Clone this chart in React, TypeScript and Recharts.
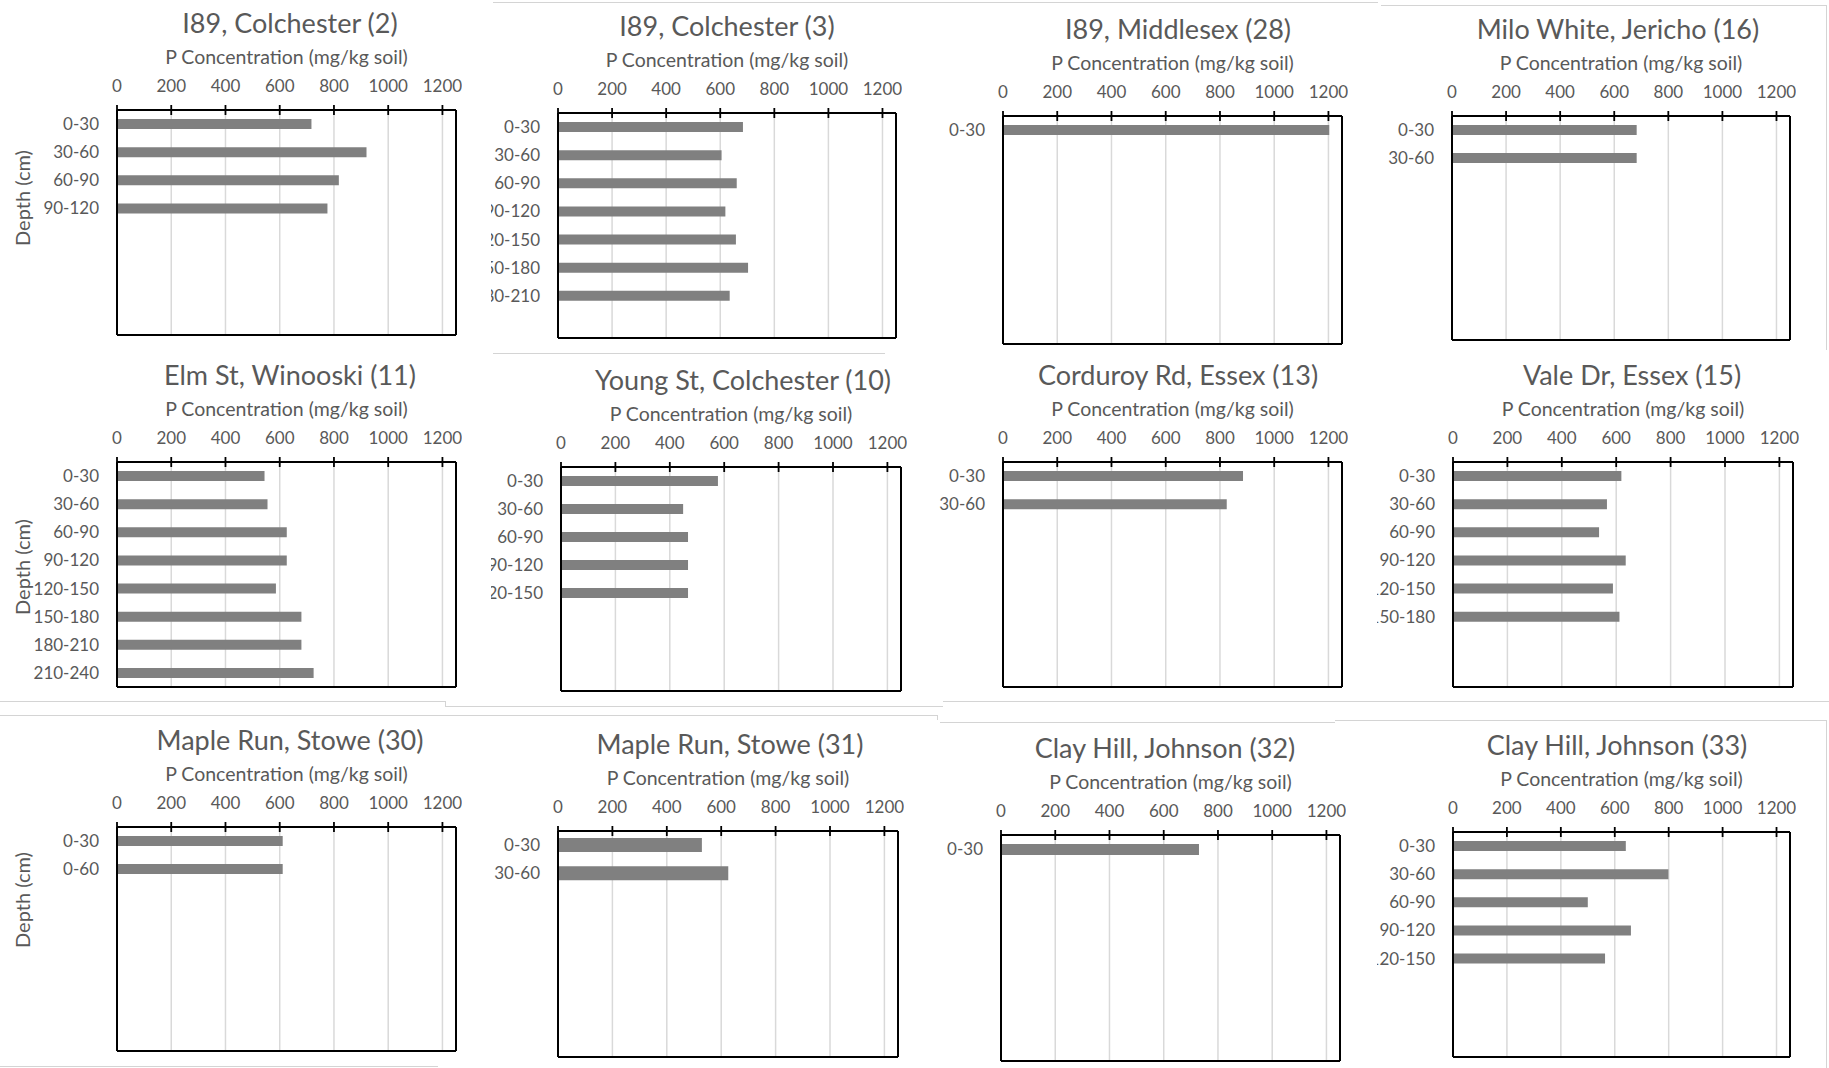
import React from "react";
import { BarChart, Bar, XAxis, YAxis, CartesianGrid } from "recharts";

// P concentration (mg/kg soil) by depth for each sampling site
const siteTitles = [
  "I89, Colchester (2)",
  "I89, Colchester (3)",
  "I89, Middlesex (28)",
  "Milo White, Jericho (16)",
  "Elm St, Winooski (11)",
  "Young St, Colchester (10)",
  "Corduroy Rd, Essex (13)",
  "Vale Dr, Essex (15)",
  "Maple Run, Stowe (30)",
  "Maple Run, Stowe (31)",
  "Clay Hill, Johnson (32)",
  "Clay Hill, Johnson (33)",
];

const colchester2Depths = ["0-30", "30-60", "60-90", "90-120"];
const colchester2Values = [717, 920, 818, 776];

const colchester3Depths = ["0-30", "30-60", "60-90", "90-120", "120-150", "150-180", "180-210"];
const colchester3Values = [684, 605, 661, 619, 658, 703, 635];

const middlesexDepths = ["0-30"];
const middlesexValues = [1203];

const jerichoDepths = ["0-30", "30-60"];
const jerichoValues = [683, 683];

const winooskiDepths = ["0-30", "30-60", "60-90", "90-120", "120-150", "150-180", "180-210", "210-240"];
const winooskiValues = [544, 555, 626, 626, 586, 680, 680, 725];

const youngStDepths = ["0-30", "30-60", "60-90", "90-120", "120-150"];
const youngStValues = [577, 449, 467, 467, 467];

const corduroyDepths = ["0-30", "30-60"];
const corduroyValues = [885, 825];

const valeDrDepths = ["0-30", "30-60", "60-90", "90-120", "120-150", "150-180"];
const valeDrValues = [619, 566, 537, 635, 588, 612];

const stowe30Depths = ["0-30", "0-60"];
const stowe30Values = [611, 611];

const stowe31Depths = ["0-30", "30-60"];
const stowe31Values = [529, 626];

const johnson32Depths = ["0-30"];
const johnson32Values = [730];

const johnson33Depths = ["0-30", "30-60", "60-90", "90-120", "120-150"];
const johnson33Values = [641, 799, 500, 660, 564];

const majorTicks = [0, 200, 400, 600, 800, 1000, 1200];
const minorTicks = [100, 300, 500, 700, 900, 1100];
const X_MAX = 1250;
const SLOTS = 8;

const FONT = "Lato, 'Open Sans', sans-serif";
const TEXT = "#595959";
const BAR = "#808080";
const GRID = "#d9d9d9";

// where each screenshot sits in the collage
const layout = [
  { left: 117, top: 110, right: 456, bottom: 335, titleX: 290, depthY: 198, barSize: 10 },
  { left: 558, top: 113, right: 896, bottom: 338, titleX: 727, clipX: 491, barSize: 10 },
  { left: 1003, top: 116, right: 1342, bottom: 344, titleX: 1178, barSize: 10 },
  { left: 1452, top: 116, right: 1790, bottom: 340, titleX: 1618, clipX: 1381, barSize: 10 },
  { left: 117, top: 462, right: 456, bottom: 687, titleX: 290, depthY: 567, barSize: 10 },
  { left: 561, top: 467, right: 901, bottom: 691, titleX: 743, clipX: 491, barSize: 10 },
  { left: 1003, top: 462, right: 1342, bottom: 687, titleX: 1178, barSize: 10 },
  { left: 1453, top: 462, right: 1793, bottom: 687, titleX: 1632, clipX: 1377, barSize: 10 },
  { left: 117, top: 827, right: 456, bottom: 1051, titleX: 290, depthY: 900, barSize: 10 },
  { left: 558, top: 831, right: 898, bottom: 1057, titleX: 730, clipX: 493, barSize: 14 },
  { left: 1001, top: 835, right: 1340, bottom: 1061, titleX: 1165, barSize: 11 },
  { left: 1453, top: 832, right: 1790, bottom: 1057, titleX: 1617, clipX: 1377, barSize: 10 },
];

const siteDepths = [
  colchester2Depths, colchester3Depths, middlesexDepths, jerichoDepths,
  winooskiDepths, youngStDepths, corduroyDepths, valeDrDepths,
  stowe30Depths, stowe31Depths, johnson32Depths, johnson33Depths,
];
const siteValues = [
  colchester2Values, colchester3Values, middlesexValues, jerichoValues,
  winooskiValues, youngStValues, corduroyValues, valeDrValues,
  stowe30Values, stowe31Values, johnson32Values, johnson33Values,
];

// faint frame edges left over from the pasted screenshots
const frameLines = [
  { x: 493, y: 2, w: 885, h: 1 },
  { x: 1381, y: 5, w: 446, h: 1 },
  { x: 1826, y: 5, w: 1, h: 345 },
  { x: 493, y: 353, w: 392, h: 1 },
  { x: 0, y: 701, w: 445, h: 1 },
  { x: 445, y: 701, w: 1, h: 5 },
  { x: 445, y: 706, w: 498, h: 1 },
  { x: 943, y: 701, w: 886, h: 1 },
  { x: 0, y: 715, w: 937, h: 1 },
  { x: 937, y: 715, w: 1, h: 5 },
  { x: 940, y: 722, w: 395, h: 1 },
  { x: 1335, y: 720, w: 492, h: 1 },
  { x: 1826, y: 720, w: 1, h: 348 },
  { x: 0, y: 1066, w: 438, h: 1 },
];

function MajorTick(props: any) {
  const { x, y, payload } = props;
  return (
    <g>
      <line x1={x} x2={x} y1={y - 5} y2={y + 5} stroke="#000" strokeWidth={1.8} />
      <text x={x} y={y - 25} textAnchor="middle" dominantBaseline="central" fill={TEXT} fontSize={17} fontFamily={FONT}>
        {payload.value}
      </text>
    </g>
  );
}

function MinorTick(props: any) {
  const { x, y } = props;
  // minor axis sits 1px above the main one
  return <line x1={x} x2={x} y1={y + 1} y2={y + 6} stroke="#000" strokeWidth={1.8} />;
}

function Panel({ idx }: { idx: number }) {
  const p = layout[idx];
  const depths = siteDepths[idx];
  const values = siteValues[idx];
  const L = 110;
  const MT = 40;
  const MR = 6;
  const MB = 6;
  const plotW = p.right - p.left;
  const plotH = p.bottom - p.top;
  const chartLeft = p.left - L;
  const chartTop = p.top - MT;
  const width = L + plotW + MR;
  const height = MT + plotH + MB;
  const clipX = p.clipX ?? chartLeft;

  const rows = Array.from({ length: SLOTS }, (_, i) => ({
    depth: depths[i] ?? "",
    p: values[i] ?? null,
  }));

  return (
    <>
      <div
        style={{
          position: "absolute",
          left: p.titleX,
          top: p.top - 88,
          transform: "translate(-50%, -50%)",
          whiteSpace: "nowrap",
          fontSize: 27,
          color: TEXT,
        }}
      >
        {siteTitles[idx]}
      </div>
      <div
        style={{
          position: "absolute",
          left: (p.left + p.right) / 2,
          top: p.top - 54,
          transform: "translate(-50%, -50%)",
          whiteSpace: "nowrap",
          fontSize: 19.5,
          color: TEXT,
        }}
      >
        P Concentration (mg/kg soil)
      </div>
      {p.depthY !== undefined && (
        <div
          style={{
            position: "absolute",
            left: 22,
            top: p.depthY,
            transform: "translate(-50%, -50%) rotate(-90deg)",
            whiteSpace: "nowrap",
            fontSize: 20,
            color: TEXT,
          }}
        >
          Depth (cm)
        </div>
      )}
      <div
        style={{
          position: "absolute",
          left: clipX,
          top: chartTop,
          width: width - (clipX - chartLeft),
          height,
          overflow: "hidden",
        }}
      >
        <div style={{ position: "absolute", left: chartLeft - clipX, top: 0 }}>
          <BarChart
            layout="vertical"
            width={width}
            height={height}
            data={rows}
            margin={{ top: MT - 2, right: MR - 1, bottom: MB - 1, left: 0 }}
            barCategoryGap={0}
          >
            <CartesianGrid horizontal={false} vertical stroke={GRID} strokeWidth={1.5} />
            <XAxis
              type="number"
              orientation="top"
              domain={[0, X_MAX]}
              ticks={majorTicks}
              interval={0}
              height={1}
              tickSize={0}
              tickMargin={0}
              tickLine={false}
              tick={<MajorTick />}
              axisLine={{ stroke: "#000", strokeWidth: 2 }}
            />
            <XAxis
              xAxisId="minor"
              type="number"
              orientation="top"
              domain={[0, X_MAX]}
              ticks={minorTicks}
              interval={0}
              height={1}
              tickSize={0}
              tickMargin={0}
              tickLine={false}
              tick={<MinorTick />}
              axisLine={false}
            />
            <XAxis
              xAxisId="bottom"
              type="number"
              orientation="bottom"
              domain={[0, X_MAX]}
              height={1}
              tick={false}
              tickLine={false}
              axisLine={{ stroke: "#000", strokeWidth: 2 }}
            />
            <YAxis
              type="category"
              dataKey="depth"
              width={L}
              interval={0}
              tickSize={0}
              tickMargin={18}
              tickLine={false}
              tick={{ fill: TEXT, fontSize: 17, fontFamily: FONT }}
              axisLine={{ stroke: "#000", strokeWidth: 2 }}
            />
            <YAxis
              yAxisId="right"
              type="category"
              dataKey="depth"
              orientation="right"
              width={1}
              tick={false}
              tickLine={false}
              axisLine={{ stroke: "#000", strokeWidth: 2 }}
            />
            <Bar dataKey="p" fill={BAR} barSize={p.barSize} isAnimationActive={false} />
          </BarChart>
        </div>
      </div>
    </>
  );
}

export default function App() {
  return (
    <div
      style={{
        position: "absolute",
        left: 0,
        top: 0,
        width: 1829,
        height: 1068,
        background: "#fff",
        fontFamily: FONT,
        overflow: "hidden",
      }}
    >
      {frameLines.map((f, i) => (
        <div
          key={i}
          style={{ position: "absolute", left: f.x, top: f.y, width: f.w, height: f.h, background: "#d4d4d4" }}
        />
      ))}
      {layout.map((_, i) => (
        <Panel key={i} idx={i} />
      ))}
    </div>
  );
}
